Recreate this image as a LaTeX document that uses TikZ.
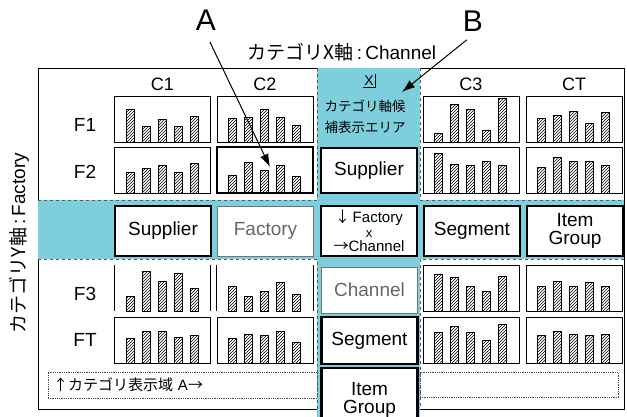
\documentclass[tikz,border=0pt]{standalone}
\usepackage{fontspec}
\setmainfont{Liberation Sans}
\newfontfamily\jp{Noto Sans CJK JP}
\usetikzlibrary{patterns,arrows.meta,calc}
\definecolor{panel}{RGB}{126,207,221}

% five hatched bars standing on the bottom of a chart node
\newcommand{\drawbars}[2]{%
  \foreach \h [count=\i] in {#2}
    \draw[bar] ($(#1.south west)+(16*\i-4,0)$) rectangle ++(8,-\h);
}

\begin{document}
\begin{tikzpicture}[x=1pt,y=-1pt,
    chart/.style = {draw, line width=0.8pt,
            minimum width=96pt, minimum height=46pt, inner sep=0pt},
    bar/.style = {draw, line width=0.9pt, pattern=north east lines},
    box/.style = {draw, line width=1.3pt, fill=white,
            minimum width=96pt, minimum height=46pt, inner sep=0pt,
            align=center, font=\fontsize{19}{18}\selectfont},
    ghost/.style = {box, draw=black!55, line width=0.8pt, text=black!60},
    heavy/.style = {box, line width=2.2pt},
    lbl/.style = {font=\fontsize{19}{19}\selectfont},
    col/.style = {font=\fontsize{18}{18}\selectfont},
    area/.style = {draw=black!70, densely dotted, line width=0.8pt},
    rim/.style = {draw=black!65, dashed, line width=0.8pt},
    pointer/.style = {line width=1pt, -{Latex[length=13pt,width=9pt]}}]
        \useasboundingbox (0,0) rectangle (627,416);
        \clip (0,0) rectangle (627,416);

        % Outer frame
        \draw[line width=0.9pt] (38,68) rectangle (624,409);

        % Candidate column and band
        \fill[panel] (317,68) rectangle (420,420);
        \fill[panel] (38,200) rectangle (624,259);
        \draw[rim] (38,200) -- (317,200) -- (317,68);
        \draw[rim] (420,68) -- (420,200) -- (624,200);
        \draw[rim] (38,259) -- (317,259) -- (317,409);
        \draw[rim] (624,259) -- (420,259) -- (420,409);

        % Axis titles
        \node[lbl] (xaxis) at (342,52) {{\jp カテゴリX軸}\,:\,Channel};
        \node[lbl, rotate=90] (yaxis) at (19,243) {{\jp カテゴリY軸}\,:\,Factory};

        % Column heads
        \node[col] (c1) at (162.5,84) {C1};
        \node[col] (c2) at (265,84) {C2};
        \node[col] (c3) at (471,84) {C3};
        \node[col] (ct) at (574,84) {CT};
        \node[font=\fontsize{14}{14}\selectfont, inner sep=1.5pt] (close) at (369,81) {X};
        \draw[line width=0.9pt] (close.south west) -- (close.south east) -- (close.north east);
        \node[font=\jp\fontsize{13.5}{21}\selectfont, align=center] (hint) at (365,117)
            {カテゴリ軸候\\補表示エリア};

        % Row heads
        \node[lbl] (f1) at (85,125) {F1};
        \node[lbl] (f2) at (85,172) {F2};
        \node[lbl] (f3) at (85,294) {F3};
        \node[lbl] (ft) at (85,340) {FT};

        % Charts
        \node[chart] (f1c1) at (162.5,119) {};
        \node[chart] (f1c2) at (265,119) {};
        \node[chart] (f1c3) at (471,119) {};
        \node[chart] (f1ct) at (574,119) {};
        \node[chart] (f2c1) at (162.5,170) {};
        \node[chart, line width=1.8pt] (f2c2) at (265,170) {};
        \node[chart] (f2c3) at (471,170) {};
        \node[chart] (f2ct) at (574,170) {};
        \node[chart, draw=none] (f3c1) at (162.5,288) {};
        \node[chart, draw=none] (f3c2) at (265,288) {};
        \node[chart] (f3c3) at (471,288) {};
        \node[chart] (f3ct) at (574,288) {};
        \node[chart] (ftc1) at (162.5,340) {};
        \node[chart] (ftc2) at (265,340) {};
        \node[chart] (ftc3) at (471,340) {};
        \node[chart] (ftct) at (574,340) {};
        \draw[line width=0.9pt] (f3c1.north west) -- (f3c1.south west);
        \draw[line width=0.9pt] (f3c1.north east) -- (f3c1.south east);
        \draw[line width=0.9pt] (f3c2.north west) -- (f3c2.south west);
        \draw[line width=0.9pt] (f3c2.north east) -- (f3c2.south east);

        \drawbars{f1c1}{33,16,23,16,26}
        \drawbars{f1c2}{24,25,33,25,17}
        \drawbars{f1c3}{9,38,33,12,44}
        \drawbars{f1ct}{24,27,31,19,30}
        \drawbars{f2c1}{21,25,28,21,30}
        \drawbars{f2c2}{18,31,23,28,17}
        \drawbars{f2c3}{40,29,28,32,28}
        \drawbars{f2ct}{26,36,32,32,28}
        \drawbars{f3c1}{15,40,30,38,23}
        \drawbars{f3c2}{25,15,20,29,17}
        \drawbars{f3c3}{37,34,25,20,35}
        \drawbars{f3ct}{25,30,25,29,25}
        \drawbars{ftc1}{25,32,32,26,28}
        \drawbars{ftc2}{25,29,28,32,21}
        \drawbars{ftc3}{31,37,31,23,39}
        \drawbars{ftct}{28,32,29,28,29}

        % Band of category boxes
        \node[box, minimum height=50pt, line width=1.6pt] (bsup) at (163,231) {Supplier};
        \node[ghost, minimum height=50pt] (bfac) at (265.5,231) {Factory};
        \node[heavy, minimum height=50pt, line width=2.6pt,
              font=\fontsize{15}{14.5}\selectfont] (cross) at (369,231)
            {{\jp ↓}\,Factory\\{\fontsize{13}{13}\selectfont x}\\{\jp →}Channel};
        \node[box, minimum height=50pt, line width=1.6pt] (bseg) at (472,231) {Segment};
        \node[box, minimum height=50pt] (bitem) at (575,231) {Item\\Group};

        % Column of category boxes
        \node[box, minimum height=45pt] (ksup) at (369,170.5) {Supplier};
        \node[ghost] (kchan) at (369.5,290) {Channel};
        \node[heavy, minimum height=47pt] (kseg) at (369.5,340.5) {Segment};
        \node[heavy, minimum height=64pt] (kitem) at (369.5,400) {Item\\Group};

        % Display areas
        \node[area, minimum width=269pt, minimum height=26pt, text width=259pt,
              align=left, inner sep=5pt, font=\fontsize{15}{15}\selectfont]
            (areaA) at (182.5,385) {{\jp ↑カテゴリ表示域} A{\jp →}};
        \node[area, minimum width=198pt, minimum height=25pt] (areaB) at (519,384.5) {};

        % Pointers
        \node[font=\fontsize{30}{30}\selectfont] (A) at (206,20) {A};
        \node[font=\fontsize{30}{30}\selectfont] (B) at (473,21) {B};
        \coordinate (tipA) at (270,167);
        \coordinate (tipB) at (402,92);
        \draw[pointer, shorten <=9pt] (A.south) -- (tipA);
        \draw[pointer, shorten <=8pt] (B.south) -- (tipB);
    \end{tikzpicture}
\end{document}
